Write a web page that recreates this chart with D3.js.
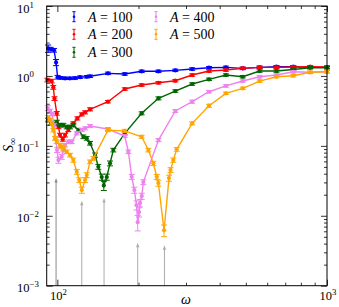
<!DOCTYPE html>
<html><head><meta charset="utf-8">
<script src="https://cdn.jsdelivr.net/npm/d3@7"></script>
<style>body{margin:0;background:#fff}svg{display:block}</style>
</head><body><svg id="c" width="339" height="307"></svg>
<script>
// ---- data: [omega, S_inf, relative error] ----
const amplitudes = [100, 200, 300, 400, 500];
const dataA100 = [[92.4,2.47,0.12],[94.5,2.42,0.06],[97.2,2.33,0.06],[98.9,1.56,0.1],[100.2,0.96,0.06],[102.9,0.94,0.04],[106.8,0.924,0.04],[111.4,0.924,0.04],[116.3,0.933,0.04],[121.4,0.96,0.04],[128.5,0.974,0.04],[132.2,0.99,0.04],[154,1.089,0.04],[177.8,1.065,0.04],[205.4,1.164,0.04],[237.1,1.164,0.04],[273.8,1.202,0.04],[316.2,1.255,0.04],[365.2,1.31,0.04],[421.7,1.327,0.04],[487,1.284,0.04],[562.3,1.327,0.04],[649.4,1.354,0.04],[749.9,1.354,0.04],[866,1.327,0.04],[1000,1.327,0.04]];
const dataA200 = [[91.8,0.874,0.06],[95.3,0.845,0.06],[96.6,0.687,0.06],[97.6,0.475,0.06],[99.5,0.292,0.06],[100.9,0.1875,0.06],[102.3,0.1427,0.06],[104.7,0.124,0.06],[106.8,0.1427,0.06],[109.8,0.1683,0.05],[114.6,0.21,0.05],[118.6,0.247,0.05],[123.2,0.282,0.05],[126.7,0.3015,0.05],[132.2,0.333,0.05],[154,0.428,0.04],[177.8,0.65,0.04],[205.4,0.741,0.04],[237.1,0.799,0.04],[273.8,0.854,0.04],[316.2,1.03,0.04],[365.2,1.175,0.04],[421.7,1.214,0.04],[487,1.284,0.04],[562.3,1.327,0.04],[649.4,1.327,0.04],[749.9,1.341,0.04],[866,1.354,0.04],[1000,1.341,0.04]];
const dataA300 = [[92.4,0.234,0.06],[94.8,0.212,0.06],[97.6,0.205,0.06],[99.5,0.219,0.06],[102.3,0.198,0.06],[105.3,0.198,0.06],[108.3,0.186,0.06],[111.4,0.186,0.06],[114.6,0.198,0.06],[119.6,0.168,0.06],[124.9,0.135,0.06],[128.5,0.128,0.06],[132.2,0.109,0.06],[138.0,0.0738,0.07],[141.9,0.0502,0.08],[146.1,0.0358,0.1],[148.7,0.027,0.15],[152.5,0.0358,0.1],[156.8,0.0562,0.08],[161.3,0.0871,0.06],[177.8,0.151,0.05],[205.4,0.292,0.05],[237.1,0.478,0.05],[273.8,0.608,0.04],[316.2,0.766,0.04],[365.2,0.894,0.04],[421.7,1.03,0.04],[487,0.974,0.04],[562.3,1.175,0.04],[649.4,1.175,0.04],[749.9,1.235,0.04],[866,1.31,0.04],[1000,1.31,0.04]];
const dataA400 = [[92.1,0.347,0.08],[94.0,0.315,0.06],[95.6,0.285,0.06],[97.2,0.198,0.06],[98.5,0.129,0.06],[99.7,0.0871,0.08],[100.9,0.0626,0.1],[103.8,0.0698,0.08],[105.3,0.0871,0.06],[106.8,0.1026,0.06],[109.8,0.1145,0.06],[113.1,0.1145,0.06],[118.0,0.151,0.05],[123.2,0.168,0.05],[126.7,0.178,0.05],[132.2,0.192,0.05],[154,0.174,0.05],[177.8,0.138,0.05],[183.4,0.0824,0.06],[188.7,0.0361,0.08],[193.0,0.0233,0.1],[196.6,0.0142,0.15],[198.6,0.0081,0.25],[200.9,0.0113,0.15],[202.6,0.0152,0.12],[205.6,0.0191,0.1],[208.4,0.0303,0.08],[237.1,0.121,0.05],[273.8,0.315,0.05],[316.2,0.428,0.05],[365.2,0.594,0.04],[421.7,0.719,0.04],[487,0.845,0.04],[562.3,0.974,0.04],[649.4,1.03,0.04],[749.9,1.148,0.04],[866,1.126,0.04],[1000,1.148,0.04]];
const dataA500 = [[92.6,0.25,0.08],[94.0,0.234,0.06],[95.3,0.21,0.06],[96.6,0.168,0.06],[98.1,0.128,0.06],[99.5,0.1145,0.06],[102.3,0.1026,0.06],[103.8,0.0971,0.06],[105.3,0.0921,0.06],[108.3,0.0824,0.06],[111.4,0.0738,0.06],[114.6,0.0626,0.07],[118.0,0.0426,0.08],[120.6,0.0324,0.08],[123.2,0.0233,0.1],[126.7,0.0324,0.08],[128.5,0.0382,0.08],[132.2,0.0592,0.06],[136.0,0.0662,0.06],[154,0.168,0.05],[177.8,0.164,0.05],[205.4,0.135,0.05],[217.5,0.0871,0.06],[227.0,0.0562,0.07],[233.7,0.0361,0.08],[236.9,0.0294,0.1],[248.7,0.0062,0.19],[259.5,0.0346,0.1],[262.9,0.045,0.08],[269.2,0.0626,0.07],[277.1,0.0891,0.06],[316.2,0.21,0.05],[365.2,0.375,0.05],[421.7,0.564,0.04],[487,0.665,0.04],[562.3,0.845,0.04],[649.4,0.974,0.04],[749.9,1.007,0.04],[866,1.126,0.04],[1000,1.148,0.04]];
const arrowOmega = [98.9, 123.2, 149.0, 198.6, 249.5];
const arrowTop = [0.0346, 0.0164, 0.0179, 0.0041, 0.0038];
const xMajorTicks = [100, 1000];
const xMinorTicks = [200, 300, 400, 500, 600, 700, 800, 900];
const yMajorTicks = [1e-3, 1e-2, 1e-1, 1, 10];
const yMinorTicks = [2e-3,3e-3,4e-3,5e-3,6e-3,7e-3,8e-3,9e-3,2e-2,3e-2,4e-2,5e-2,6e-2,7e-2,8e-2,9e-2,0.2,0.3,0.4,0.5,0.6,0.7,0.8,0.9,2,3,4,5,6,7,8,9];
const xTickLabels = [["10","2"],["10","3"]];
const yTickLabels = [["10","\u22123"],["10","\u22122"],["10","\u22121"],["10","0"],["10","1"]];

// ---- styles ----
const colors = ["#0000ff", "#ff0000", "#006400", "#ee82ee", "#ffa500"];
const allData = [dataA100, dataA200, dataA300, dataA400, dataA500];
const L = 46.7, R = 327, T = 6, B = 285.7;
const FONT = "'Liberation Serif','DejaVu Serif',serif";

const svg = d3.select("#c");
const x = d3.scaleLog().domain([91.3, 1000]).range([L, R]);
const y = d3.scaleLog().domain([1e-3, 10]).range([B, T]);

// arrows
const ag = svg.append("g");
arrowOmega.forEach((w, i) => {
  const px = x(w), top = y(arrowTop[i]);
  const c = i === 0 ? "#8a8a8a" : "#aaaaaa";
  ag.append("line").attr("x1", px).attr("x2", px).attr("y1", B).attr("y2", top + 3)
    .attr("stroke", c).attr("stroke-width", 1);
  ag.append("path").attr("d", `M${px-1.6},${top+4.5}L${px},${top}L${px+1.6},${top+4.5}Z`).attr("fill", c);
});

// series
const line = d3.line().x(d => x(d[0])).y(d => y(d[1]));
allData.forEach((data, i) => {
  const g = svg.append("g");
  const c = colors[i];
  g.append("path").datum(data).attr("d", line).attr("fill", "none")
    .attr("stroke", c).attr("stroke-width", 1.4);
  data.forEach(d => {
    const e = d[1] * d[2];
    const px = x(d[0]), y1 = y(d[1] + e), y2 = y(Math.max(d[1] - e, 1e-6));
    g.append("line").attr("x1", px).attr("x2", px).attr("y1", y1).attr("y2", y2).attr("stroke", c).attr("stroke-width", 1);
    g.append("line").attr("x1", px - 3).attr("x2", px + 3).attr("y1", y1).attr("y2", y1).attr("stroke", c).attr("stroke-width", 1);
    g.append("line").attr("x1", px - 3).attr("x2", px + 3).attr("y1", y2).attr("y2", y2).attr("stroke", c).attr("stroke-width", 1);
  });
  g.selectAll("circle").data(data).join("circle")
    .attr("cx", d => x(d[0])).attr("cy", d => y(d[1])).attr("r", 2.1).attr("fill", c);
});

// axes (ticks inward)
function axisG(axisFn, scale, vals, size, tr) {
  const g = svg.append("g").attr("transform", tr)
    .call(axisFn(scale).tickValues(vals).tickSize(-size).tickSizeOuter(0).tickFormat(""));
  g.select(".domain").remove();
  g.selectAll(".tick line").attr("stroke", "#000").attr("stroke-width", 0.8);
  return g;
}
axisG(d3.axisBottom, x, xMajorTicks, 6, `translate(0,${B})`);
axisG(d3.axisBottom, x, xMinorTicks, 3, `translate(0,${B})`);
axisG(d3.axisTop, x, xMajorTicks, 6, `translate(0,${T})`);
axisG(d3.axisTop, x, xMinorTicks, 3, `translate(0,${T})`);
axisG(d3.axisLeft, y, yMajorTicks, 6, `translate(${L},0)`);
axisG(d3.axisLeft, y, yMinorTicks, 3, `translate(${L},0)`);
axisG(d3.axisRight, y, yMajorTicks, 6, `translate(${R},0)`);
axisG(d3.axisRight, y, yMinorTicks, 3, `translate(${R},0)`);
svg.append("rect").attr("x", L).attr("y", T).attr("width", R - L).attr("height", B - T)
  .attr("fill", "none").attr("stroke", "#000").attr("stroke-width", 1);

// tick labels
function supLabel(px, py, base, exp, anchor) {
  const t = svg.append("text").attr("x", px).attr("y", py).attr("text-anchor", anchor)
    .attr("font-family", FONT).attr("font-size", 12.5).attr("fill", "#000");
  t.append("tspan").text(base);
  t.append("tspan").attr("dy", -5).attr("font-size", 8.8).text(exp);
}
yMajorTicks.forEach((v, i) => supLabel(17, y(v) + 6.5, yTickLabels[i][0], yTickLabels[i][1], "start"));
xMajorTicks.forEach((v, i) => supLabel(x(v) + 1, 299.5, xTickLabels[i][0], xTickLabels[i][1], "middle"));

// axis titles
svg.append("text").attr("x", 186).attr("y", 304).attr("text-anchor", "middle")
  .attr("font-family", FONT).attr("font-style", "italic").attr("font-size", 14).text("\u03c9");
const yl = svg.append("text").attr("transform", "translate(13,145) rotate(-90)").attr("text-anchor", "middle")
  .attr("font-family", FONT).attr("font-size", 14);
yl.append("tspan").attr("font-style", "italic").text("S");
yl.append("tspan").attr("dy", 3).attr("font-size", 10).text("\u221e");

// legend
const legPos = [[74, 16.7], [74, 34.3], [74, 52.3], [156, 16.7], [156, 34.3]];
amplitudes.forEach((a, i) => {
  const [lx, ly] = legPos[i], c = colors[i];
  const g = svg.append("g");
  g.append("line").attr("x1", lx).attr("x2", lx).attr("y1", ly - 5).attr("y2", ly + 5).attr("stroke", c).attr("stroke-width", 1);
  g.append("line").attr("x1", lx - 1.6).attr("x2", lx + 1.6).attr("y1", ly - 5).attr("y2", ly - 5).attr("stroke", c).attr("stroke-width", 1);
  g.append("line").attr("x1", lx - 1.6).attr("x2", lx + 1.6).attr("y1", ly + 5).attr("y2", ly + 5).attr("stroke", c).attr("stroke-width", 1);
  g.append("circle").attr("cx", lx).attr("cy", ly).attr("r", 1.3).attr("fill", c);
  const t = g.append("text").attr("x", lx + 14).attr("y", ly + 4.8).attr("font-family", FONT).attr("font-size", 14);
  t.append("tspan").attr("font-style", "italic").text("A");
  t.append("tspan").text(" = " + a);
});
</script>
</body></html>
